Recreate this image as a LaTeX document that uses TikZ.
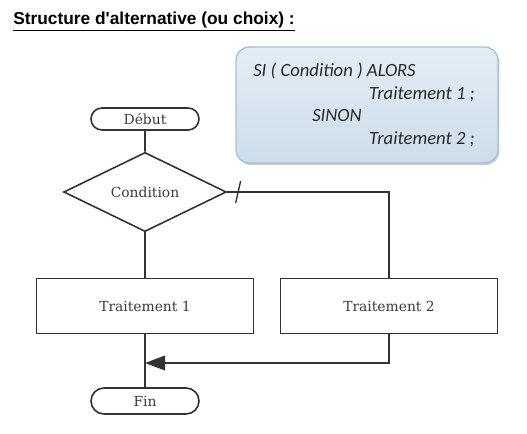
\documentclass[tikz,border=0pt]{standalone}
\usepackage{fontspec}
\setmainfont{DejaVu Serif}
\newfontfamily\titlefont{Liberation Sans}
\newfontfamily\boxfont{Carlito}
\usetikzlibrary{arrows.meta, shapes.misc, shapes.geometric, shadows}
\definecolor{my_darkgray}{HTML}{333333}
\definecolor{my_text}{HTML}{3A3A3A}
\definecolor{my_boxtext}{HTML}{2A2A2A}
\definecolor{my_boxtop}{HTML}{E4EDF5}
\definecolor{my_boxbottom}{HTML}{CCDDEB}
\definecolor{my_boxborder}{HTML}{9CC4DC}

\begin{document}
\begin{tikzpicture}[
    x=0.75pt, y=-0.75pt,
    line/.style={draw=my_darkgray, line width=1.2pt},
    chartfont/.style={font=\fontsize{10.4}{12}\selectfont, text=my_text},
    terminal/.style={line, chartfont, rounded rectangle, minimum width=81pt,
        minimum height=16.5pt, inner sep=0pt},
    decision/.style={line, chartfont, diamond, minimum width=122pt,
        minimum height=56pt, inner sep=0pt},
    process/.style={line, chartfont, rectangle, minimum width=163pt,
        minimum height=41pt, inner sep=0pt},
    algotext/.style={font=\boxfont\itshape\fontsize{14}{16}\selectfont,
        text=my_boxtext, inner sep=0pt}
]
\useasboundingbox (0,0) rectangle (527,434);

%% ================================================================
%% TITRE
%% ================================================================
\node[anchor=base west, inner sep=0pt, font=\titlefont\bfseries\fontsize{13}{15}\selectfont]
    (titre) at (13,25) {\underline{Structure d'alternative (ou choix) :}};

%% ================================================================
%% CADRE BLEU : pseudo-code
%% ================================================================
\node[rounded corners=10pt, minimum width=196.5pt, minimum height=87pt,
      draw=my_boxborder, line width=1pt, top color=my_boxtop, bottom color=my_boxbottom,
      drop shadow={shadow xshift=1pt, shadow yshift=-1.5pt, opacity=0.4}]
    (algo) at (367,105) {};
\node[algotext, anchor=base west] (si)    at (253,77)  {SI ( Condition ) ALORS};
\node[algotext, anchor=base east] (tr1)   at (475,100) {Traitement 1 ;};
\node[algotext, anchor=base west] (sinon) at (312,122) {SINON};
\node[algotext, anchor=base east] (tr2)   at (475,145) {Traitement 2 ;};

%% ================================================================
%% ORGANIGRAMME
%% ================================================================
\node[terminal] (debut) at (145,119) {Début};
\node[decision] (cond)  at (145,192) {Condition};
\node[process]  (trait1) at (145,306) {Traitement 1};
\node[process]  (trait2) at (389,306) {Traitement 2};
\node[terminal, minimum height=19.5pt] (fin) at (145,401) {Fin};

%% --- Liaisons ---
\draw[line] (debut) -- (cond);
\draw[line] (cond) -- (trait1);
\draw[line] (cond.east) -| (trait2.north);
\draw[line] (trait1) -- (fin);

%% --- Marque sur la branche SINON ---
\path (cond.east) -- ++(11,0) coordinate (marque);
\draw[line, line width=1pt] ([shift={(-2.5,11)}]marque) -- ([shift={(2.5,-11)}]marque);

%% --- Retour de Traitement 2 ---
\coordinate (jonction) at (trait1.south |- 0,363);
\draw[line, -{Triangle[length=15pt, width=11pt]}] (trait2.south) |- (jonction);

\end{tikzpicture}
\end{document}
